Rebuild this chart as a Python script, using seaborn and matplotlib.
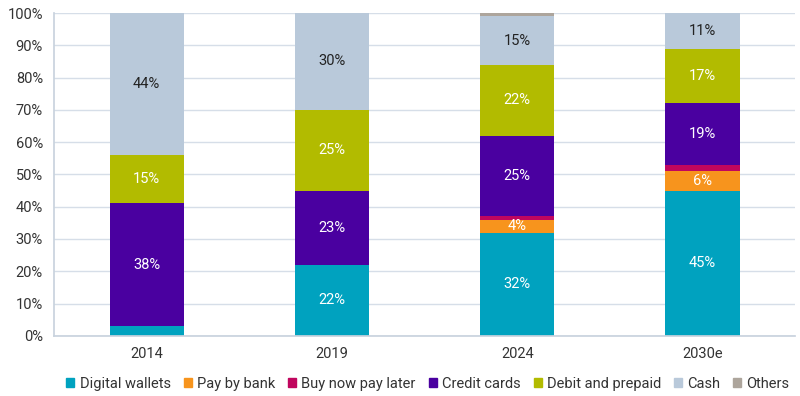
import matplotlib.pyplot as plt
import numpy as np
import pandas as pd
import seaborn as sns

years = ["2014", "2019", "2024", "2030e"]
series = ["Digital wallets", "Pay by bank", "Buy now pay later", "Credit cards",
          "Debit and prepaid", "Cash", "Others"]
digital_wallets = [3, 22, 32, 45]
pay_by_bank = [0, 0, 4, 6]
buy_now_pay_later = [0, 0, 1, 2]
credit_cards = [38, 23, 25, 19]
debit_prepaid = [15, 25, 22, 17]
cash = [44, 30, 15, 11]
others = [0, 0, 1, 0]

colors = ["#00A2BF", "#F7941D", "#C0065E", "#4A00A0", "#B2BB00", "#B9C9DA", "#ADA59C"]
label_colors = ["white", "white", "white", "white", "white", "#222222", "white"]

sns.set_theme(style="white")
plt.rcParams["font.family"] = ["Roboto", "DejaVu Sans"]

values = np.array([digital_wallets, pay_by_bank, buy_now_pay_later, credit_cards,
                   debit_prepaid, cash, others], dtype=float)
cumulative = values.cumsum(axis=0)

fig, ax = plt.subplots(figsize=(8, 3.96), dpi=100)
fig.subplots_adjust(left=0.0675, right=0.994, top=0.967, bottom=0.152)

# stack by drawing cumulative totals from the top down
for i in reversed(range(len(series))):
    df = pd.DataFrame({"Year": years, "Share": cumulative[i]})
    sns.barplot(data=df, x="Year", y="Share", color=colors[i], width=0.4,
                saturation=1, linewidth=0, edgecolor=colors[i], ax=ax, zorder=2)

# segment labels
for i, name in enumerate(series):
    for j in range(len(years)):
        v = values[i, j]
        if v >= 4:
            ax.text(j, cumulative[i, j] - v / 2, f"{v:.0f}%", ha="center", va="center",
                    color=label_colors[i], fontsize=10.5, zorder=3)

ax.set_ylim(0, 100)
ax.set_xlim(-0.5, 3.5)
ax.set_yticks(np.arange(0, 101, 10))
ax.set_yticklabels([f"{t}%" for t in range(0, 101, 10)])
ax.set_xlabel("")
ax.set_ylabel("")
ax.yaxis.grid(True, color="#D6DEE8", linewidth=1, zorder=0)
ax.set_axisbelow(True)
for side in ("top", "right"):
    ax.spines[side].set_visible(False)
for side in ("left", "bottom"):
    ax.spines[side].set_color("#C9D3DE")
ax.tick_params(axis="y", labelsize=10.5, colors="#333333", length=0, pad=8)
ax.tick_params(axis="x", labelsize=10.5, colors="#333333", length=0, pad=8)

handles = [plt.Rectangle((0, 0), 1, 1, color=c) for c in colors]
fig.legend(handles, series, loc="lower center", ncol=7, frameon=False,
           bbox_to_anchor=(0.535, -0.02), fontsize=10.5, handlelength=0.55,
           handleheight=0.55, handletextpad=0.35, columnspacing=0.9,
           labelcolor="#333333")

fig.savefig("out.png", dpi=100)
